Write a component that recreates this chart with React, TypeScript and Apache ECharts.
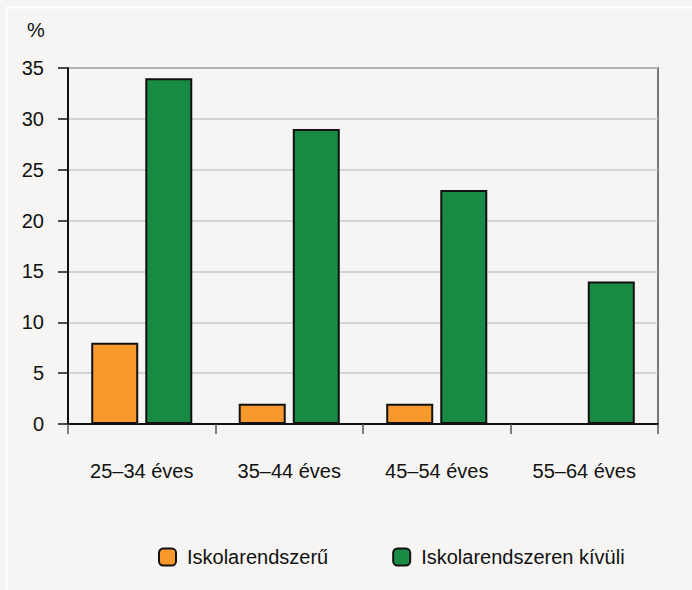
import React, { useEffect, useRef } from "react";
import * as echarts from "echarts";

const categories = ["25–34 éves", "35–44 éves", "45–54 éves", "55–64 éves"];
const seriesNames = ["Iskolarendszerű", "Iskolarendszeren kívüli"];
const formalValues: (number | null)[] = [8, 2, 2, null];
const nonFormalValues: number[] = [34, 29, 23, 14];
const yUnit = "%";

const FONT = "'Liberation Sans', Arial, sans-serif";

export default function App() {
  const ref = useRef<HTMLDivElement>(null);
  useEffect(() => {
    if (!ref.current) return;
    const chart = echarts.init(ref.current, null, { renderer: "svg" });
    chart.setOption({
      animation: false,
      backgroundColor: "#f6f5f3",
      textStyle: { fontFamily: FONT },
      graphic: [
        { type: "line", shape: { x1: 6, y1: 7.5, x2: 692, y2: 7.5 }, style: { stroke: "#ffffff", lineWidth: 2 }, silent: true },
        { type: "line", shape: { x1: 6.5, y1: 7, x2: 6.5, y2: 590 }, style: { stroke: "#ffffff", lineWidth: 2 }, silent: true },
        { type: "text", left: 27, top: 20, style: { text: yUnit, fontSize: 20, fontFamily: FONT, fill: "#111" } },
      ],
      grid: {
        left: 68, top: 68, right: 34, bottom: 166,
        show: true, borderColor: "#777777", borderWidth: 2, backgroundColor: "transparent",
      },
      legend: {
        bottom: 18,
        left: 153,
        itemWidth: 17,
        itemHeight: 17,
        itemGap: 64,
        textStyle: { fontSize: 20, fontFamily: FONT, color: "#111", padding: [0, 0, 0, 6] },
        data: seriesNames,
      },
      xAxis: {
        type: "category",
        data: categories,
        axisLine: { show: true, lineStyle: { color: "#111", width: 2 } },
        axisTick: { show: true, length: 10, lineStyle: { color: "#555", width: 1.5 } },
        axisLabel: { margin: 37, fontSize: 20, color: "#111", fontFamily: FONT },
        splitLine: { show: false },
      },
      yAxis: {
        type: "value",
        min: 0,
        max: 35,
        interval: 5,
        axisLine: { show: true, lineStyle: { color: "#111", width: 2 } },
        axisTick: { show: true, length: 10, lineStyle: { color: "#111", width: 1.5 } },
        axisLabel: { margin: 24, fontSize: 20, color: "#111", fontFamily: FONT },
        splitLine: { show: true, lineStyle: { color: "#c8c8c8", width: 1.5 } },
      },
      series: [
        {
          name: seriesNames[0],
          type: "bar",
          data: formalValues,
          barWidth: 47,
          barGap: "15%",
          itemStyle: { color: "#f7992c", borderColor: "#111", borderWidth: 2 },
        },
        {
          name: seriesNames[1],
          type: "bar",
          data: nonFormalValues,
          barWidth: 47,
          barGap: "15%",
          itemStyle: { color: "#198a44", borderColor: "#111", borderWidth: 2 },
        },
      ],
    });
    return () => chart.dispose();
  }, []);
  return <div ref={ref} style={{ position: "absolute", left: 0, top: 0, width: 692, height: 590 }} />;
}
